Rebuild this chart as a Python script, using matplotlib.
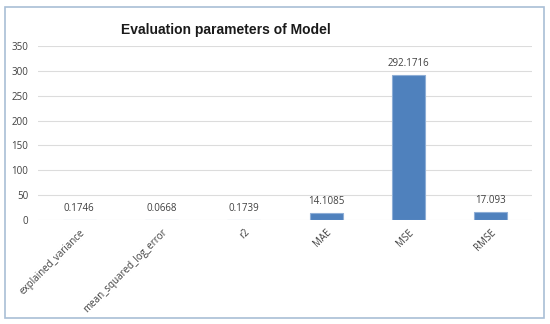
import matplotlib
matplotlib.use("Agg")
import matplotlib.pyplot as plt
from matplotlib.patches import Rectangle

categories = ["explained_variance", "mean_squared_log_error", "r2", "MAE", "MSE", "RMSE"]
values = [0.1746, 0.0668, 0.1739, 14.1085, 292.1716, 17.093]
labels = ["0.1746", "0.0668", "0.1739", "14.1085", "292.1716", "17.093"]
yticks = [0, 50, 100, 150, 200, 250, 300, 350]

W, H = 550, 324
fig = plt.figure(figsize=(W / 100, H / 100), dpi=100)
fig.patch.set_facecolor("white")

# outer border
fig.patches.append(Rectangle((5 / W, 6 / H), 539 / W, 311 / H, transform=fig.transFigure,
                             fill=False, edgecolor="#a9bfd6", linewidth=1.2))

ax = fig.add_axes([38 / W, (H - 220) / H, 494 / W, 174 / H])
x = range(len(categories))
ax.bar(x, values, width=0.4, color="#4f81bd", edgecolor="#8eaed6", linewidth=0.8, zorder=3)
for xi, v, lab in zip(x, values, labels):
    ax.annotate(lab, (xi, v), xytext=(0, 4), textcoords="offset points",
                ha="center", va="bottom", fontsize=7, color="#404040", family="Open Sans")
ax.set_ylim(0, 350)
ax.set_xlim(-0.5, len(categories) - 0.5)
ax.set_yticks(yticks)
ax.set_yticklabels([str(t) for t in yticks], fontsize=7, color="#404040", family="Open Sans")
ax.set_xticks(list(x))
ax.set_xticklabels(categories, rotation=45, ha="right", rotation_mode="anchor",
                   fontsize=7, color="#404040", family="Open Sans")
ax.grid(axis="y", color="#dcdcdc", linewidth=0.8, zorder=0)
for s in ax.spines.values():
    s.set_visible(False)
ax.tick_params(axis="both", length=0, pad=5)
ax.tick_params(axis="y", pad=7)

fig.text(226 / W, (H - 30) / H, "Evaluation parameters of Model", ha="center", va="center",
         fontsize=10, fontweight="bold", color="#1a1a1a", family="Liberation Sans")

fig.savefig("out.png", dpi=100, facecolor="white")
